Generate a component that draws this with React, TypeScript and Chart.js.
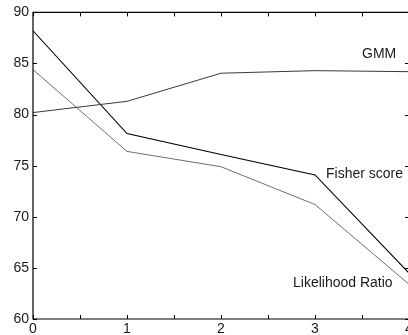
import React, { useEffect, useRef } from "react";
import { Chart, registerables } from "chart.js";

Chart.register(...registerables);

const xValues = [0, 1, 2, 3, 4];
const gmm = [80.2, 81.3, 84.05, 84.3, 84.2];
const fisher = [88.2, 78.15, 76.1, 74.1, 64.5];
const likelihood = [84.4, 76.4, 74.9, 71.2, 63.4];

const seriesNames = ["GMM", "Fisher score", "Likelihood Ratio"];
const labelX = [3.5, 3.117, 2.766];
const labelY = [85.87, 74.14, 63.54];

const FONT = "'Liberation Sans', Arial, sans-serif";

const boxPlugin = {
  id: "boxPlugin",
  afterDraw(chart: any) {
    const { ctx, chartArea } = chart;
    const { left, right, top, bottom } = chartArea;
    const xs = chart.scales.x;
    const ys = chart.scales.y;
    ctx.save();
    ctx.strokeStyle = "#000";
    ctx.lineWidth = 1.2;
    ctx.beginPath();
    ctx.rect(left, top, right - left, bottom - top);
    ctx.stroke();
    ctx.lineWidth = 1;
    ctx.beginPath();
    const tl = 4;
    xs.ticks.forEach((t: any) => {
      const px = Math.round(xs.getPixelForValue(t.value)) + 0.5;
      ctx.moveTo(px, bottom);
      ctx.lineTo(px, bottom - tl);
      ctx.moveTo(px, top);
      ctx.lineTo(px, top + tl);
    });
    ys.ticks.forEach((t: any) => {
      const py = Math.round(ys.getPixelForValue(t.value)) + 0.5;
      ctx.moveTo(left, py);
      ctx.lineTo(left + tl, py);
      ctx.moveTo(right, py);
      ctx.lineTo(right - tl, py);
    });
    ctx.stroke();
    ctx.fillStyle = "#1a1a1a";
    ctx.font = `14px ${FONT}`;
    ctx.textAlign = "left";
    ctx.textBaseline = "middle";
    seriesNames.forEach((name, i) => {
      ctx.fillText(name, xs.getPixelForValue(labelX[i]), ys.getPixelForValue(labelY[i]));
    });
    ctx.restore();
  },
};

export default function App() {
  const ref = useRef<HTMLCanvasElement>(null);
  useEffect(() => {
    document.body.style.margin = "0";
    document.body.style.overflow = "hidden";
    const toPts = (arr: number[]) => arr.map((y, i) => ({ x: xValues[i], y }));
    const chart = new Chart(ref.current!, {
      type: "line",
      data: {
        datasets: [
          { label: "GMM", data: toPts(gmm), borderColor: "#3a3a3a", borderWidth: 1, pointRadius: 0, tension: 0 },
          { label: "Fisher score", data: toPts(fisher), borderColor: "#000000", borderWidth: 1.1, pointRadius: 0, tension: 0 },
          { label: "Likelihood Ratio", data: toPts(likelihood), borderColor: "#6e6e6e", borderWidth: 1, pointRadius: 0, tension: 0 },
        ],
      },
      options: {
        responsive: false,
        animation: false,
        layout: { padding: { top: 10, right: 21, left: 0, bottom: 0 } },
        plugins: { legend: { display: false }, tooltip: { enabled: false } },
        scales: {
          x: {
            type: "linear",
            min: 0,
            max: 4,
            grid: { display: false, drawTicks: false },
            border: { display: false },
            afterFit: (s: any) => { s.height = 16; },
            ticks: {
              stepSize: 0.5,
              padding: 2,
              maxRotation: 0,
              autoSkip: false,
              color: "#1a1a1a",
              font: { family: FONT, size: 14 },
              callback: (v: any) => (Number.isInteger(v) ? String(v) : ""),
            },
          },
          y: {
            type: "linear",
            min: 60,
            max: 90,
            grid: { display: false, drawTicks: false },
            border: { display: false },
            afterFit: (s: any) => { s.width = 33; },
            ticks: {
              stepSize: 5,
              padding: 4,
              color: "#1a1a1a",
              font: { family: FONT, size: 14 },
            },
          },
        },
      },
      plugins: [boxPlugin],
    });
    return () => chart.destroy();
  }, []);
  return (
    <div style={{ width: 408, height: 335, overflow: "hidden", position: "relative", background: "#fff" }}>
      <canvas ref={ref} width={430} height={335} style={{ width: 430, height: 335, display: "block" }} />
    </div>
  );
}
